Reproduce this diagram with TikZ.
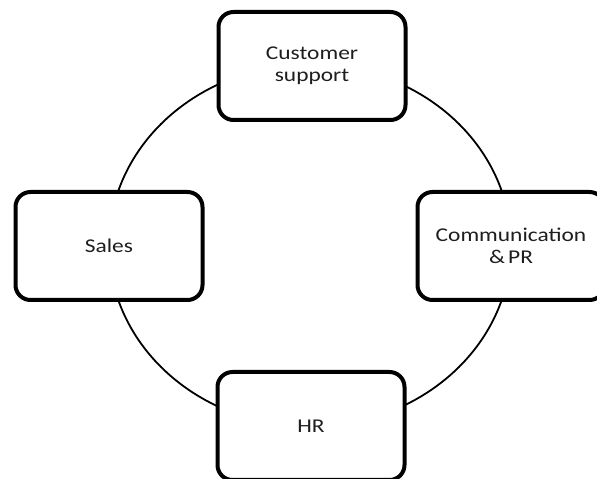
\documentclass[tikz,border=0pt]{standalone}
\usepackage{fontspec}
\setmainfont{Carlito}[FakeStretch=1.2]
\usepackage{tikz}
\definecolor{mydark}{RGB}{0,0,0}
\definecolor{mytext}{RGB}{30,30,30}
\tikzset{
  unit/.style={rectangle, draw=mydark, fill=white,
    minimum width=187pt, minimum height=108pt, text width=180pt,
    align=center, inner sep=0pt, rounded corners=15pt, line width=4pt,
    font=\fontsize{19.5}{22}\selectfont, text=mytext},
  ring/.style={line width=1.8pt, color=mydark}
}

\begin{document}
\begin{tikzpicture}[x=1pt, y=1pt]
  \useasboundingbox (0,0) rectangle (597,479);
  % Ring behind the units
  \coordinate (hub) at (310,233.5);
  \draw[ring] (hub) ellipse [x radius=201, y radius=181];
  % Units on the ring
  \node[unit] (support) at (312,413) {Customer\\support};
  \node[unit] (sales) at (109,233) {Sales};
  \node[unit] (comms) at (511,233) {Communication\\\&\,PR};
  \node[unit] (hr) at (311,53) {HR};
\end{tikzpicture}
\end{document}
